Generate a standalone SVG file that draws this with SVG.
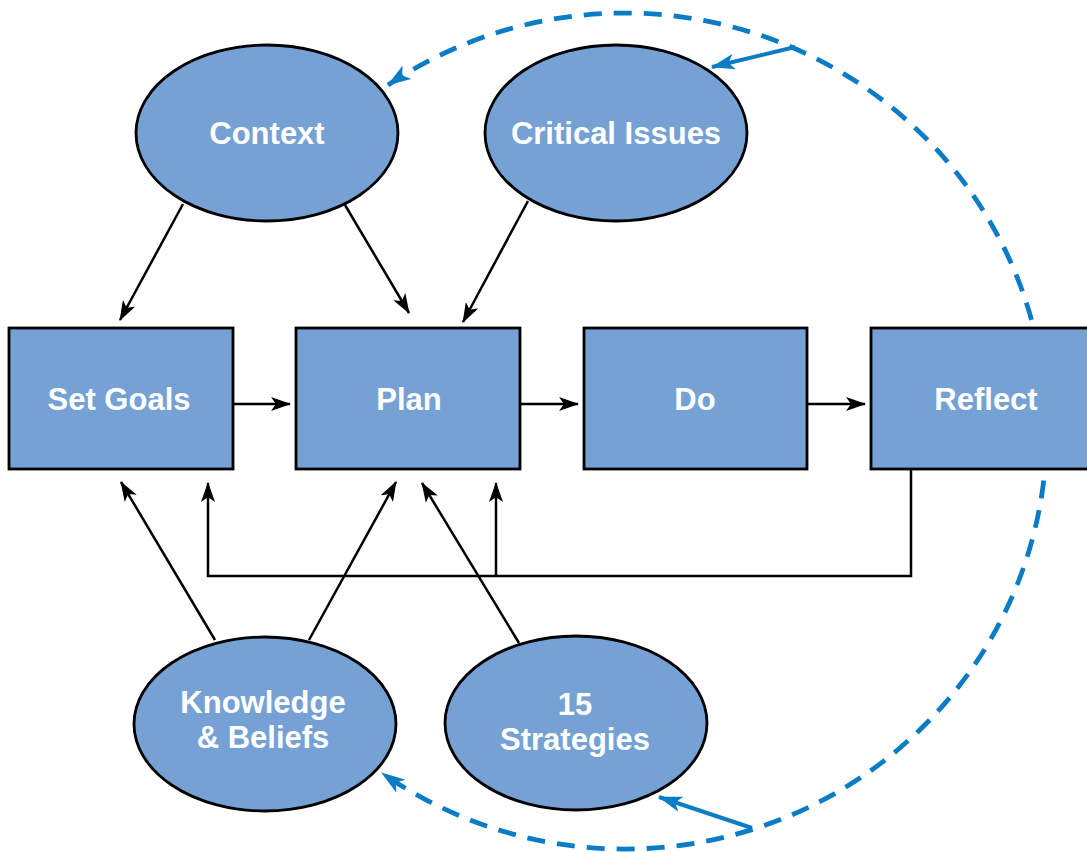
<svg xmlns="http://www.w3.org/2000/svg" width="1087" height="852" viewBox="0 0 1087 852">
<style>
.node{fill:#75a1d4;stroke:#000;stroke-width:2.8}
.lbl{font-family:"Liberation Sans",Arial,sans-serif;font-weight:bold;font-size:31px;fill:#fff;text-anchor:middle}
.conn{fill:none;stroke:#000;stroke-width:2.5}
.cycle{fill:none;stroke:#0a7cc6;stroke-width:4.8;stroke-dasharray:18 12}
.blue{fill:none;stroke:#0a7cc6;stroke-width:4}
</style>
<defs>
<marker id="ah" viewBox="0 0 20 14" refX="19" refY="7" markerWidth="20" markerHeight="14" markerUnits="userSpaceOnUse" orient="auto">
<path d="M0,0 L20,7 L0,14 L5,7 Z" fill="#000"/>
</marker>
<marker id="bh" viewBox="0 0 24 16" refX="23" refY="8" markerWidth="24" markerHeight="16" markerUnits="userSpaceOnUse" orient="auto-start-reverse">
<path d="M0,0 L24,8 L0,16 L6,8 Z" fill="#0a7cc6"/>
</marker>
</defs>
<rect width="1087" height="852" fill="#fff"/>
<g id="cycle">
<path class="cycle" d="M 388 85 A 422 418 0 1 1 382 773" marker-start="url(#bh)" marker-end="url(#bh)"/>
</g>
<g id="nodes">
<g id="context"><ellipse class="node" cx="267" cy="133" rx="131" ry="88"/><text class="lbl" x="267" y="144">Context</text></g>
<g id="critical"><ellipse class="node" cx="616" cy="133" rx="131" ry="88"/><text class="lbl" x="616" y="144">Critical Issues</text></g>
<g id="setgoals"><rect class="node" x="9" y="328" width="224" height="141"/><text class="lbl" x="119" y="410">Set Goals</text></g>
<g id="plan"><rect class="node" x="296" y="328" width="224" height="141"/><text class="lbl" x="409" y="410">Plan</text></g>
<g id="do"><rect class="node" x="584" y="328" width="223" height="141"/><text class="lbl" x="695" y="410">Do</text></g>
<g id="reflect"><rect class="node" x="871" y="328" width="220" height="141"/><text class="lbl" x="986" y="410">Reflect</text></g>
<g id="knowledge"><ellipse class="node" cx="265" cy="724" rx="131" ry="87"/><text class="lbl" x="263" y="713">Knowledge</text><text class="lbl" x="263" y="748">&amp; Beliefs</text></g>
<g id="strategies"><ellipse class="node" cx="576" cy="723" rx="131" ry="87"/><text class="lbl" x="575" y="715">15</text><text class="lbl" x="575" y="750">Strategies</text></g>
</g>
<g id="connectors">
<line class="conn" x1="183" y1="204" x2="120" y2="320" marker-end="url(#ah)"/>
<line class="conn" x1="345" y1="205" x2="409" y2="313" marker-end="url(#ah)"/>
<line class="conn" x1="528" y1="201" x2="463" y2="322" marker-end="url(#ah)"/>
<line class="conn" x1="234" y1="404" x2="290" y2="404" marker-end="url(#ah)"/>
<line class="conn" x1="521" y1="404" x2="578" y2="404" marker-end="url(#ah)"/>
<line class="conn" x1="808" y1="404" x2="865" y2="404" marker-end="url(#ah)"/>
<polyline class="conn" points="911,469 911,576 208,576 208,483" marker-end="url(#ah)"/>
<line class="conn" x1="496" y1="576" x2="496" y2="483" marker-end="url(#ah)"/>
<line class="conn" x1="215" y1="640" x2="121" y2="482" marker-end="url(#ah)"/>
<line class="conn" x1="309" y1="640" x2="396" y2="482" marker-end="url(#ah)"/>
<line class="conn" x1="519" y1="643" x2="422" y2="483" marker-end="url(#ah)"/>
<line class="blue" x1="795" y1="47" x2="712" y2="67" marker-end="url(#bh)"/>
<line class="blue" x1="752" y1="828" x2="659" y2="797" marker-end="url(#bh)"/>
</g>
</svg>
